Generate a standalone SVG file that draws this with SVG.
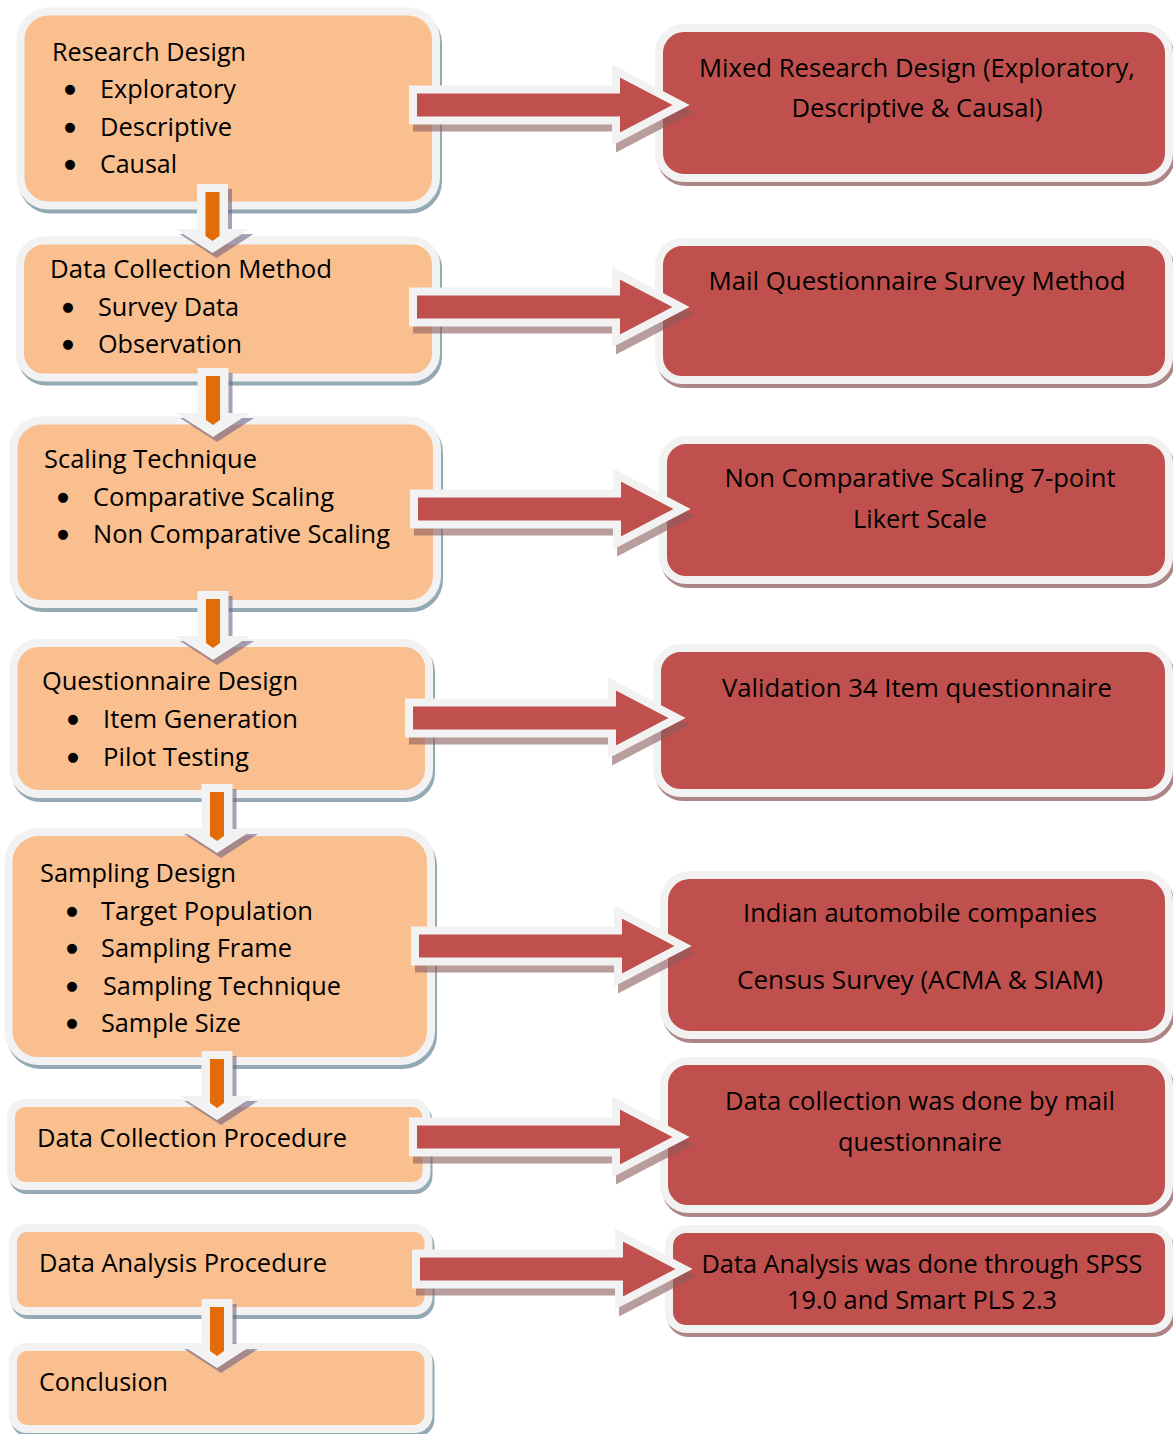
<svg xmlns="http://www.w3.org/2000/svg" width="1173" height="1434" viewBox="0 0 1173 1434">
<defs>
<style>
  .step .shade { fill:#93aab5; stroke:#93aab5; stroke-width:8; }
  .step .face { fill:#f9bf8f; stroke:#f2f2f2; stroke-width:8; }
  .result .shade { fill:#ad8585; stroke:#ad8585; stroke-width:8; }
  .result .face { fill:#c0504d; stroke:#f2f2f2; stroke-width:8; }
  text { font-family: "Open Sans", Lato, "Liberation Sans", sans-serif; font-size:25px; fill:#000; }
  .c { text-anchor:middle; }
  .blt { font-family: "DejaVu Sans", sans-serif; font-size:13px; text-anchor:middle; }
  .rface { fill:#c0504d; stroke:#f2f2f2; stroke-width:8; stroke-linejoin:miter; }
  .rshade { fill:#8a5a5a; stroke:#8a5a5a; stroke-width:8; }
</style>
<!-- block arrow pointing right, centred vertically on 0 -->
<path id="rarrow" d="M413,-15.5 H616 V-34 L681,0 L616,34 V15.5 H413 Z"/>
<!-- block arrow pointing down, tip at 0,0 -->
<path id="dshape" d="M-15.5,-69 H15.5 V-24 H37 L0,0 L-37,-24 H-15.5 Z"/>
<g id="darrow">
  <use href="#dshape" transform="translate(4,5)" fill="#6e6285" opacity="0.6"/>
  <use href="#dshape" fill="#f2f2f2"/>
  <path d="M-7,-61 H7 V-17 L0,-12 L-7,-17 Z" fill="#e36c09"/>
</g>
</defs>

<rect width="1173" height="1434" fill="#ffffff"/>

<!-- process steps (left column) -->
<g id="step-research-design" class="step">
  <rect class="shade" x="20.5" y="11.5" width="415.5" height="194" rx="28" transform="translate(2,4)"/>
  <rect class="face" x="20.5" y="11.5" width="415.5" height="194" rx="28"/>
  <text x="52" y="61" textLength="194" lengthAdjust="spacingAndGlyphs">Research Design</text>
  <text class="blt" x="70" y="93">●</text>
  <text x="100" y="98" textLength="136" lengthAdjust="spacingAndGlyphs">Exploratory</text>
  <text class="blt" x="70" y="131">●</text>
  <text x="100" y="136" textLength="132" lengthAdjust="spacingAndGlyphs">Descriptive</text>
  <text class="blt" x="70" y="168">●</text>
  <text x="100" y="173" textLength="77" lengthAdjust="spacingAndGlyphs">Causal</text>
</g>

<g id="step-data-collection-method" class="step">
  <rect class="shade" x="20" y="240.5" width="416" height="137" rx="24" transform="translate(2,4)"/>
  <rect class="face" x="20" y="240.5" width="416" height="137" rx="24"/>
  <text x="50" y="278" textLength="282" lengthAdjust="spacingAndGlyphs">Data Collection Method</text>
  <text class="blt" x="68" y="311">●</text>
  <text x="98" y="316" textLength="141" lengthAdjust="spacingAndGlyphs">Survey Data</text>
  <text class="blt" x="68" y="348">●</text>
  <text x="98" y="353" textLength="144" lengthAdjust="spacingAndGlyphs">Observation</text>
</g>

<g id="step-scaling-technique" class="step">
  <rect class="shade" x="13.5" y="420.5" width="423.5" height="183.5" rx="28" transform="translate(2,4)"/>
  <rect class="face" x="13.5" y="420.5" width="423.5" height="183.5" rx="28"/>
  <text x="44" y="468" textLength="213" lengthAdjust="spacingAndGlyphs">Scaling Technique</text>
  <text class="blt" x="63" y="501">●</text>
  <text x="93" y="506" textLength="241" lengthAdjust="spacingAndGlyphs">Comparative Scaling</text>
  <text class="blt" x="63" y="538">●</text>
  <text x="93" y="543" textLength="297" lengthAdjust="spacingAndGlyphs">Non Comparative Scaling</text>
</g>

<g id="step-questionnaire-design" class="step">
  <rect class="shade" x="13.5" y="643" width="415.5" height="151" rx="25" transform="translate(2,4)"/>
  <rect class="face" x="13.5" y="643" width="415.5" height="151" rx="25"/>
  <text x="42" y="690" textLength="256" lengthAdjust="spacingAndGlyphs">Questionnaire Design</text>
  <text class="blt" x="73" y="723">●</text>
  <text x="103" y="728" textLength="195" lengthAdjust="spacingAndGlyphs">Item Generation</text>
  <text class="blt" x="73" y="761">●</text>
  <text x="103" y="766" textLength="146" lengthAdjust="spacingAndGlyphs">Pilot Testing</text>
</g>

<g id="step-sampling-design" class="step">
  <rect class="shade" x="8.5" y="832" width="422.5" height="229" rx="30" transform="translate(2,4)"/>
  <rect class="face" x="8.5" y="832" width="422.5" height="229" rx="30"/>
  <text x="40" y="882" textLength="196" lengthAdjust="spacingAndGlyphs">Sampling Design</text>
  <text class="blt" x="72" y="915">●</text>
  <text x="101" y="920" textLength="212" lengthAdjust="spacingAndGlyphs">Target Population</text>
  <text class="blt" x="72" y="952">●</text>
  <text x="101" y="957" textLength="191" lengthAdjust="spacingAndGlyphs">Sampling Frame</text>
  <text class="blt" x="72" y="990">●</text>
  <text x="103" y="995" textLength="238" lengthAdjust="spacingAndGlyphs">Sampling Technique</text>
  <text class="blt" x="72" y="1027">●</text>
  <text x="101" y="1032" textLength="140" lengthAdjust="spacingAndGlyphs">Sample Size</text>
</g>

<g id="step-data-collection-procedure" class="step">
  <rect class="shade" x="11" y="1103" width="415.5" height="83" rx="14" transform="translate(2,4)"/>
  <rect class="face" x="11" y="1103" width="415.5" height="83" rx="14"/>
  <text x="37" y="1147" textLength="310" lengthAdjust="spacingAndGlyphs">Data Collection Procedure</text>
</g>

<g id="step-data-analysis-procedure" class="step">
  <rect class="shade" x="13" y="1228" width="415.5" height="83" rx="14" transform="translate(2,4)"/>
  <rect class="face" x="13" y="1228" width="415.5" height="83" rx="14"/>
  <text x="39" y="1272" textLength="288" lengthAdjust="spacingAndGlyphs">Data Analysis Procedure</text>
</g>

<g id="step-conclusion" class="step">
  <rect class="shade" x="13" y="1347" width="415.5" height="82" rx="14" transform="translate(2,4)"/>
  <rect class="face" x="13" y="1347" width="415.5" height="82" rx="14"/>
  <text x="39" y="1391" textLength="129" lengthAdjust="spacingAndGlyphs">Conclusion</text>
</g>

<!-- outcomes (right column) -->
<g id="result-mixed-design" class="result">
  <rect class="shade" x="659" y="28" width="510" height="150" rx="25" transform="translate(2,4)"/>
  <rect class="face" x="659" y="28" width="510" height="150" rx="25"/>
  <text class="c" x="917" y="77" textLength="436" lengthAdjust="spacingAndGlyphs">Mixed Research Design (Exploratory,</text>
  <text class="c" x="917" y="117" textLength="251" lengthAdjust="spacingAndGlyphs">Descriptive &amp; Causal)</text>
</g>

<g id="result-mail-survey" class="result">
  <rect class="shade" x="659" y="242" width="510" height="138" rx="23" transform="translate(2,4)"/>
  <rect class="face" x="659" y="242" width="510" height="138" rx="23"/>
  <text class="c" x="917" y="290" textLength="417" lengthAdjust="spacingAndGlyphs">Mail Questionnaire Survey Method</text>
</g>

<g id="result-likert" class="result">
  <rect class="shade" x="663" y="440" width="506" height="140" rx="23" transform="translate(2,4)"/>
  <rect class="face" x="663" y="440" width="506" height="140" rx="23"/>
  <text class="c" x="920" y="487" textLength="391" lengthAdjust="spacingAndGlyphs">Non Comparative Scaling 7-point</text>
  <text class="c" x="920" y="528" textLength="134" lengthAdjust="spacingAndGlyphs">Likert Scale</text>
</g>

<g id="result-validation" class="result">
  <rect class="shade" x="657" y="648" width="512" height="145" rx="24" transform="translate(2,4)"/>
  <rect class="face" x="657" y="648" width="512" height="145" rx="24"/>
  <text class="c" x="917" y="697" textLength="390" lengthAdjust="spacingAndGlyphs">Validation 34 Item questionnaire</text>
</g>

<g id="result-census" class="result">
  <rect class="shade" x="664" y="875" width="505" height="160" rx="26" transform="translate(2,4)"/>
  <rect class="face" x="664" y="875" width="505" height="160" rx="26"/>
  <text class="c" x="920" y="922" textLength="354" lengthAdjust="spacingAndGlyphs">Indian automobile companies</text>
  <text class="c" x="920" y="989" textLength="366" lengthAdjust="spacingAndGlyphs">Census Survey (ACMA &amp; SIAM)</text>
</g>

<g id="result-mail-collection" class="result">
  <rect class="shade" x="664" y="1061" width="505" height="148" rx="24" transform="translate(2,4)"/>
  <rect class="face" x="664" y="1061" width="505" height="148" rx="24"/>
  <text class="c" x="920" y="1110" textLength="390" lengthAdjust="spacingAndGlyphs">Data collection was done by mail</text>
  <text class="c" x="920" y="1151" textLength="164" lengthAdjust="spacingAndGlyphs">questionnaire</text>
</g>

<g id="result-spss" class="result">
  <rect class="shade" x="669" y="1229" width="500" height="100" rx="17" transform="translate(2,4)"/>
  <rect class="face" x="669" y="1229" width="500" height="100" rx="17"/>
  <text class="c" x="922" y="1273" textLength="441" lengthAdjust="spacingAndGlyphs">Data Analysis was done through SPSS</text>
  <text class="c" x="922" y="1309" textLength="270" lengthAdjust="spacingAndGlyphs">19.0 and Smart PLS 2.3</text>
</g>

<!-- connectors -->
<g id="connectors">
  <!-- step to outcome -->
  <g opacity="0.6">
    <use href="#rarrow" class="rshade" transform="translate(4,112)"/>
    <use href="#rarrow" class="rshade" transform="translate(4,314)"/>
    <use href="#rarrow" class="rshade" transform="translate(5,516)"/>
    <use href="#rarrow" class="rshade" transform="translate(0,725)"/>
    <use href="#rarrow" class="rshade" transform="translate(6,953)"/>
    <use href="#rarrow" class="rshade" transform="translate(4,1144)"/>
    <use href="#rarrow" class="rshade" transform="translate(7,1276)"/>
  </g>
  <use href="#rarrow" class="rface" transform="translate(0,105)"/>
  <use href="#rarrow" class="rface" transform="translate(0,307)"/>
  <use href="#rarrow" class="rface" transform="translate(1,509)"/>
  <use href="#rarrow" class="rface" transform="translate(-4,718)"/>
  <use href="#rarrow" class="rface" transform="translate(2,946)"/>
  <use href="#rarrow" class="rface" transform="translate(0,1137)"/>
  <use href="#rarrow" class="rface" transform="translate(3,1269)"/>
  <!-- step to next step -->
  <use href="#darrow" transform="translate(212.5,253)"/>
  <use href="#darrow" transform="translate(213,437)"/>
  <use href="#darrow" transform="translate(213,660)"/>
  <use href="#darrow" transform="translate(217,853)"/>
  <use href="#darrow" transform="translate(217,1120)"/>
  <use href="#darrow" transform="translate(217,1368)"/>
</g>
</svg>
